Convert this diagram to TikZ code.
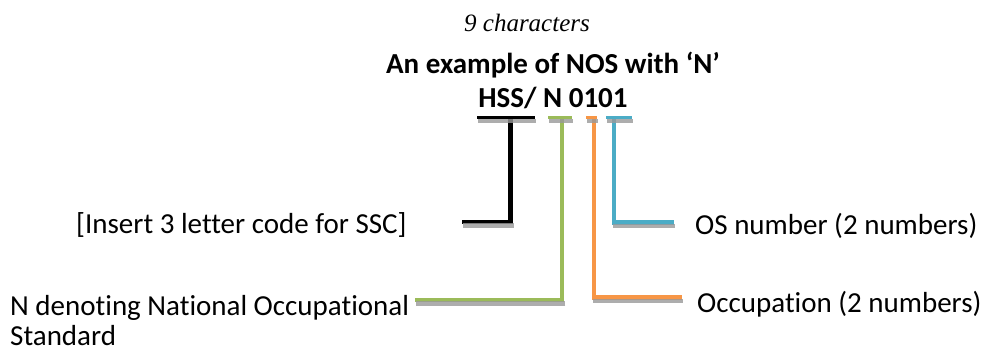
\documentclass[tikz,border=0pt]{standalone}
\usepackage{fontspec}
\setmainfont[Ligatures=NoCommon]{Carlito}
\newfontfamily\serifit{Liberation Serif}
\definecolor{codegreen}{HTML}{9BBB59}
\definecolor{codeorange}{HTML}{F79646}
\definecolor{codeblue}{HTML}{4BACC6}
\definecolor{shgray}{HTML}{999999}
\tikzset{
  txt/.style={inner sep=0pt, font=\fontsize{29}{30}\selectfont},
  topbar/.style={line width=3.5pt},
  stem/.style={line width=4.5pt, line join=miter},
  shade/.style={draw=shgray, draw opacity=.8, transform canvas={xshift=1pt,yshift=-3.5pt}}
}
\begin{document}
\begin{tikzpicture}[x=1pt,y=-1pt]
\useasboundingbox (0,0) rectangle (988,351);

% headings
\node[txt, anchor=base, font=\fontsize{25}{30}\selectfont\serifit\itshape] (count) at (527,31) {9 characters};
\node[txt, anchor=base, font=\fontsize{29}{30}\selectfont\bfseries] (head) at (553,73) {An example of NOS with ‘N’};
\node[txt, anchor=base, font=\fontsize{29}{30}\selectfont\bfseries] (code) at (553,107) {HSS/ N 0101};

% labels
\node[txt, anchor=base west] (ssc) at (76,233) {[Insert 3 letter code for SSC]};
\node[txt, anchor=base west] (nat) at (10,315) {\begin{tabular}[t]{@{}l@{}}N denoting National Occupational\\Standard\end{tabular}};
\node[txt, anchor=base west] (osn) at (695,234) {OS number (2 numbers)};
\node[txt, anchor=base west] (occ) at (697,312) {Occupation (2 numbers)};

% bracket geometry
\coordinate (kL) at (477,117.5);  \coordinate (kR) at (535,117.5);
\coordinate (kT) at (510.5,117.5); \coordinate (kC) at (510.5,222); \coordinate (kE) at (462,222);
\coordinate (gL) at (548,117.5);  \coordinate (gR) at (572,117.5);
\coordinate (gT) at (562,117.5);  \coordinate (gC) at (562,300);   \coordinate (gE) at (415,300);
\coordinate (oL) at (586,117.5);  \coordinate (oR) at (597,117.5);
\coordinate (oT) at (594,117.5);  \coordinate (oC) at (594,297.5); \coordinate (oE) at (682,297.5);
\coordinate (bL) at (606,117.5);  \coordinate (bR) at (632,117.5);
\coordinate (bT) at (614,117.5);  \coordinate (bC) at (614,222.5); \coordinate (bE) at (674,222.5);

% SSC code bracket (black)
\draw[stem, black] (kT) -- (kC) -- (kE);
\draw[stem, shade] ([xshift=2.25pt]kC) -- (kE);
\draw[topbar, shade] (kL) -- (kR);
\draw[topbar, black] (kL) -- (kR);

% N bracket (green)
\draw[stem, codegreen] (gT) -- (gC) -- (gE);
\draw[stem, shade] ([xshift=2.25pt]gC) -- (gE);
\draw[topbar, shade] (gL) -- (gR);
\draw[topbar, codegreen] (gL) -- (gR);

% occupation bracket (orange)
\draw[stem, codeorange] (oT) -- (oC) -- (oE);
\draw[stem, shade] ([xshift=-2.25pt]oC) -- (oE);
\draw[topbar, shade] (oL) -- (oR);
\draw[topbar, codeorange] (oL) -- (oR);

% OS number bracket (blue)
\draw[stem, codeblue] (bT) -- (bC) -- (bE);
\draw[stem, shade] ([xshift=-2.25pt]bC) -- (bE);
\draw[topbar, shade] (bL) -- (bR);
\draw[topbar, codeblue] (bL) -- (bR);
\end{tikzpicture}
\end{document}
